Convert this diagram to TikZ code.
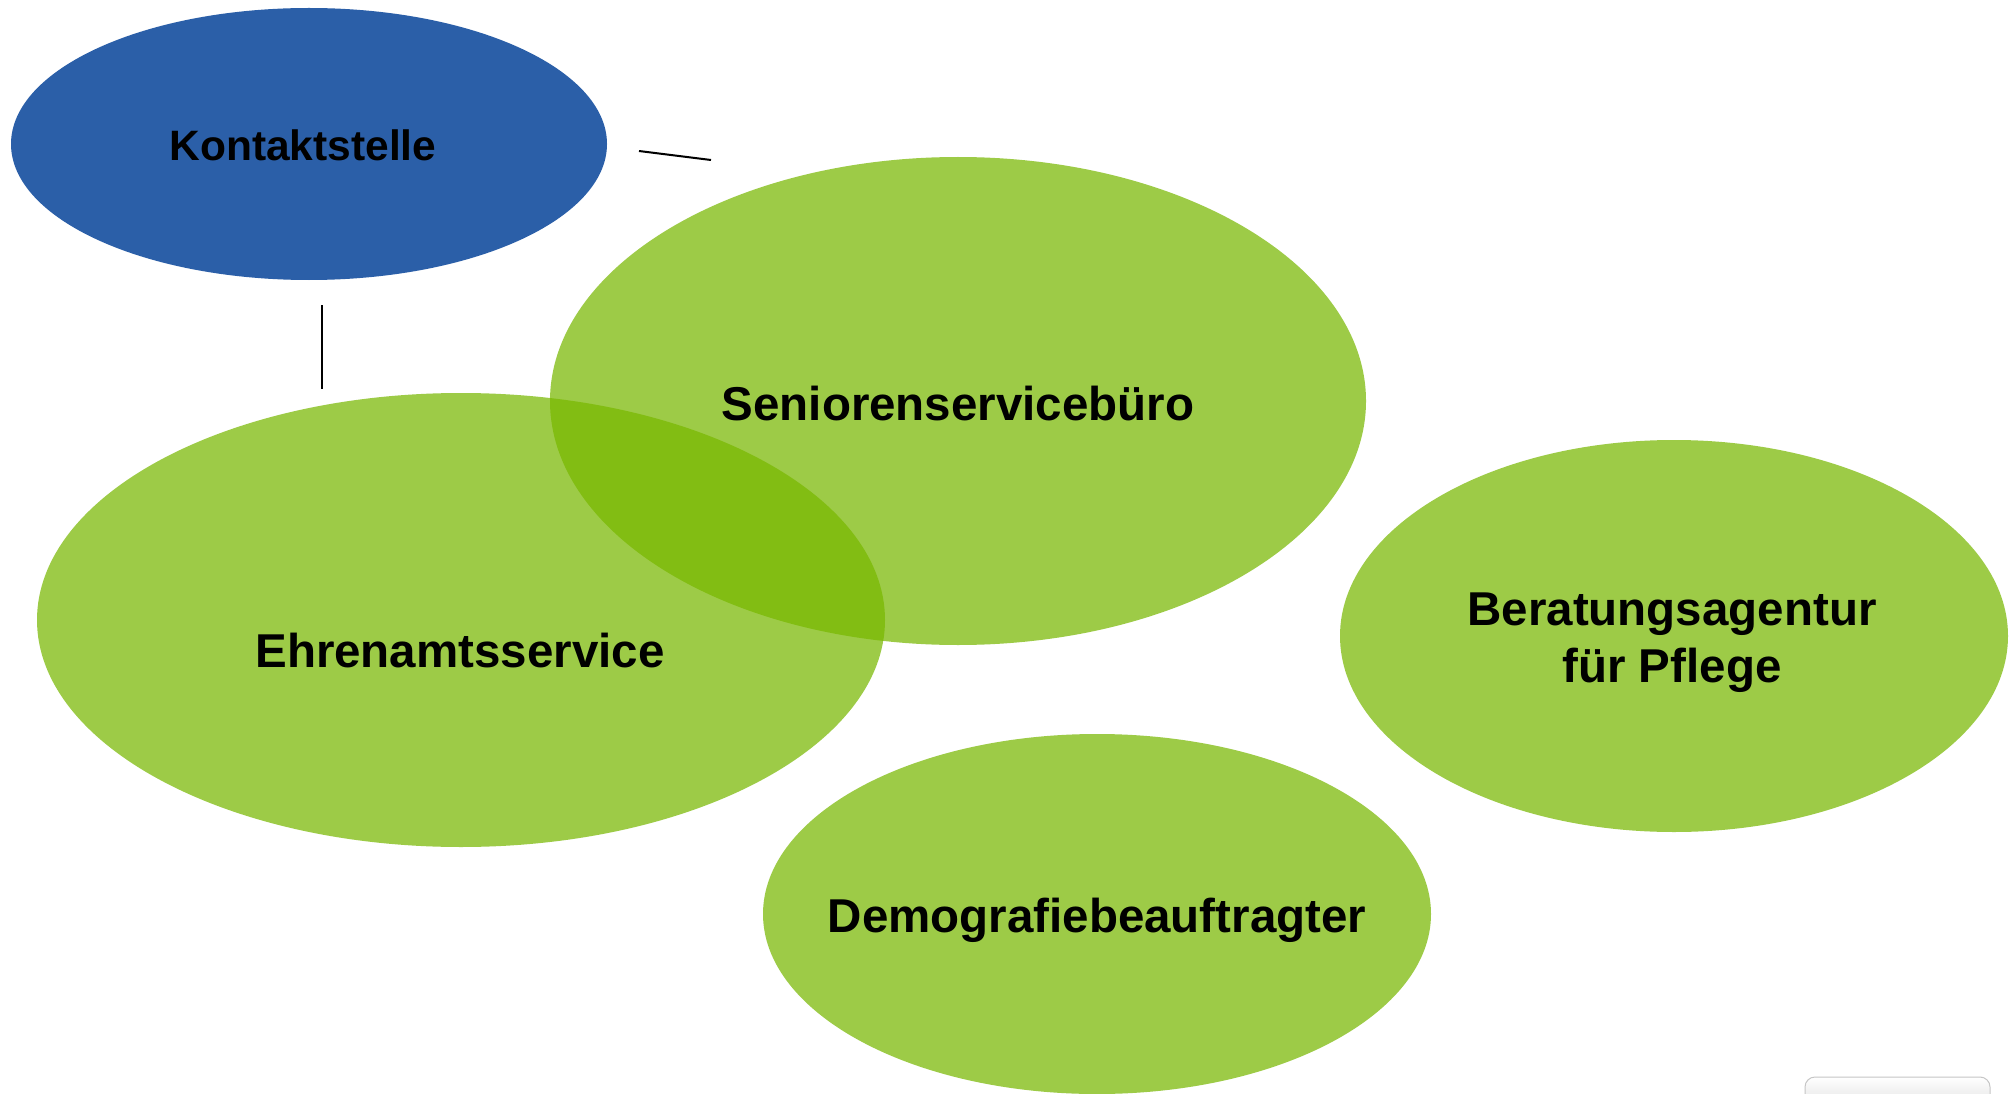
\documentclass[tikz,border=0pt]{standalone}
\usepackage{fontspec}
\setmainfont{Liberation Sans}
\begin{document}
\begin{tikzpicture}[x=1pt,y=-1pt,
  blob/.style={fill=leafgreen,fill opacity=0.72,draw=none},
  label/.style={font=\bfseries\fontsize{47.5}{57}\selectfont,text=black,align=center},
  link/.style={draw=black,line width=2pt}]
\definecolor{leafgreen}{RGB}{120,184,0}
\definecolor{contactblue}{RGB}{43,95,168}
\useasboundingbox (0,0) rectangle (2016,1094);
\fill[white] (0,0) rectangle (2016,1094);

% contact point
\fill[contactblue] (309,144) ellipse [x radius=298,y radius=136];
\node[label,font=\bfseries\fontsize{42.5}{51}\selectfont] (kontakt) at (303,145) {Kontaktstelle};

% service offices
\fill[blob] (958,401) ellipse [x radius=408,y radius=244];
\fill[blob] (461,620) ellipse [x radius=424,y radius=227];
\fill[blob] (1674,636) ellipse [x radius=334,y radius=196];
\fill[blob] (1097,914) ellipse [x radius=334,y radius=180];

\node[label] (senioren) at (958,404) {Seniorenservicebüro};
\node[label] (ehrenamt) at (460,651) {Ehrenamtsservice};
\node[label] (beratung) at (1672,643) {Beratungsagentur\\für Pflege};
\node[label] (demo) at (1097,920) {Demografiebeauftragter};

% short connector strokes
\coordinate (h1) at (639,151);
\coordinate (h2) at (711,160);
\coordinate (v1) at (322,305);
\coordinate (v2) at (322,389);
\draw[link] (h1) -- (h2);
\draw[link] (v1) -- (v2);

% tab at the lower right edge
\shade[top color=white,bottom color=gray!25,draw=gray!45,line width=1pt,rounded corners=10pt]
  (1805,1110) -- (1805,1077) -- (1990,1077) -- (1990,1110);
\end{tikzpicture}
\end{document}
